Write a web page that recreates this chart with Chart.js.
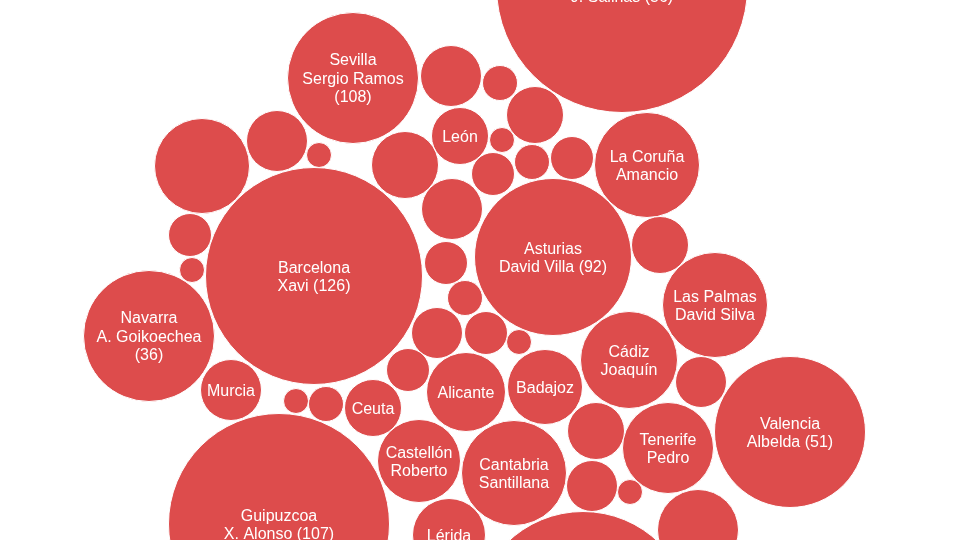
<!DOCTYPE html>
<html>
<head>
<meta charset="utf-8">
<title>Provincias</title>
<script src="https://cdn.jsdelivr.net/npm/chart.js@4.4.1/dist/chart.umd.min.js"></script>
<style>
    html, body { margin: 0; padding: 0; background: #ffffff; }
    #wrap { width: 960px; height: 540px; }
</style>
</head>
<body>
<div id="wrap"><canvas id="bubbleChart" width="960" height="540"></canvas></div>
<script>
// one entry per bubble: label text (lines split by \n), position and size
const bubbleLabels = [
    "Vizcaya\nJ. Salinas (56)", "Sevilla\nSergio Ramos\n(108)", "", "", "", "León", "", "", "",
    "La Coruña\nAmancio", "", "", "", "", "", "Barcelona\nXavi (126)", "", "Asturias\nDavid Villa (92)",
    "", "", "", "", "", "Las Palmas\nDavid Silva", "Navarra\nA. Goikoechea\n(36)", "", "", "", "",
    "Alicante", "Murcia", "", "", "Ceuta", "Badajoz", "Cádiz\nJoaquín", "", "Valencia\nAlbelda (51)",
    "Guipuzcoa\nX. Alonso (107)", "Castellón\nRoberto", "Cantabria\nSantillana", "", "Tenerife\nPedro",
    "", "", "", "Lérida", ""
];
const bubbleX = [
    622, 353, 451, 500, 535, 460, 502, 532, 572,
    647, 493, 405, 202, 277, 319, 314, 452, 553,
    660, 190, 192, 446, 465, 715, 149, 437, 486, 519, 408,
    466, 231, 296, 326, 373, 545, 629, 701, 790,
    279, 419, 514, 596, 668,
    592, 630, 698, 449, 583
];
const bubbleY = [
    -13, 78, 76, 83, 115, 136, 140, 162, 158,
    165, 174, 165, 166, 141, 155, 276, 209, 257,
    245, 235, 270, 263, 298, 305, 336, 333, 333, 342, 370,
    392, 390, 401, 404, 408, 387, 360, 382, 432,
    524, 461, 473, 431, 448,
    486, 492, 530, 535, 620
];
const bubbleSize = [
    125, 65, 30, 17, 28, 28, 12, 17, 21,
    52, 21, 33, 47, 30, 12, 108, 30, 78,
    28, 21, 12, 21, 17, 52, 65, 25, 21, 12, 21,
    39, 30, 12, 17, 28, 37, 48, 25, 75,
    110, 41, 52, 28, 45,
    25, 12, 40, 36, 108
];

const bubbleColor = "rgb(221, 76, 76)";

// writes the province / player text in the middle of each bubble
const bubbleText = {
    id: "bubbleText",
    afterDatasetsDraw(chart) {
        const ctx = chart.ctx;
        const meta = chart.getDatasetMeta(0);
        ctx.save();
        ctx.fillStyle = "#ffffff";
        ctx.font = "16px 'Liberation Sans', Arial, sans-serif";
        ctx.textAlign = "center";
        ctx.textBaseline = "middle";
        meta.data.forEach((pt, i) => {
            const lines = bubbleLabels[i] ? bubbleLabels[i].split("\n") : [];
            const lh = 18.5;
            const top = pt.y + 1.5 - (lines.length - 1) * lh / 2;
            lines.forEach((line, j) => ctx.fillText(line, pt.x, top + j * lh));
        });
        ctx.restore();
    }
};

const ctx = document.getElementById("bubbleChart").getContext("2d");
new Chart(ctx, {
    type: "bubble",
    data: {
        datasets: [
            {
                data: bubbleX.map((x, i) => ({ x: x, y: bubbleY[i], r: bubbleSize[i] + 0.5 })),
                backgroundColor: bubbleColor,
                borderColor: "#ffffff",
                borderWidth: 1,
                hoverRadius: 0,
                clip: false,
            },
        ],
    },
    options: {
        responsive: false,
        animation: false,
        devicePixelRatio: 1,
        layout: { padding: 0, autoPadding: false },
        plugins: {
            legend: { display: false },
            tooltip: { enabled: false },
        },
        scales: {
            x: { type: "linear", min: 0, max: 960, display: false },
            y: { type: "linear", min: 0, max: 540, reverse: true, display: false },
        },
    },
    plugins: [bubbleText],
});
</script>
</body>
</html>
